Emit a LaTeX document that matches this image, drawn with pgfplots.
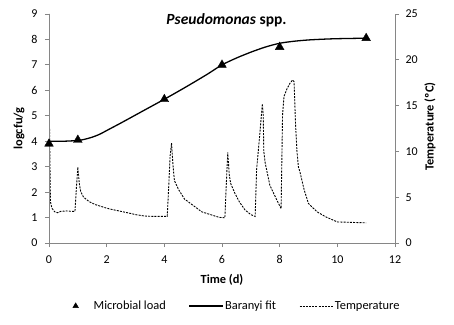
\documentclass[border=0pt]{standalone}
\usepackage{fontspec}
\setmainfont{Carlito}
\usepackage{pgfplots}
\pgfplotsset{compat=1.18}
\definecolor{axgray}{HTML}{868686}
\pgfplotsset{
  longleg/.style={legend image code/.code={\draw[##1] (0bp,0bp) -- (34bp,0bp);}},
  markleg/.style={legend image code/.code={\path[draw=none, fill=none] (0bp,0bp) -- (34bp,0bp);\draw[##1, mark size=3.2bp] plot coordinates {(17bp,0bp)};}},
  common/.style={
    width=346bp, height=229bp, scale only axis,
    at={(0,0)}, anchor=south west,
    xmin=0, xmax=12,
    /pgf/number format/assume math mode=true,
    axis line style={axgray, line width=0.8pt},
    tick style={axgray, line width=0.8pt},
    tick align=outside,
    major tick length=4bp,
    ticklabel style={font=\fontsize{12bp}{13bp}\selectfont},
    label style={font=\fontsize{12.4bp}{14bp}\selectfont\bfseries},
  }
}
\begin{document}
\begin{tikzpicture}[font=\fontsize{12bp}{13bp}\selectfont]
\path[use as bounding box] (-49bp,-82bp) rectangle (405bp,243bp);
\begin{axis}[common,
  ymin=0, ymax=25,
  axis y line*=right,
  axis x line=none,
  ytick={0,5,...,25},
  yticklabel style={xshift=3bp},
  ylabel={Temperature (ºC)},
  ylabel style={xshift=2bp},
]
\addplot[black, line width=0.9pt, dash pattern=on 2pt off 1.2pt] coordinates {
(0,25) (0.02,12) (0.05,4.5) (0.1,3.8) (0.2,3.4) (0.3,3.3) (0.4,3.45) (0.6,3.5) (0.8,3.45) (0.9,3.45)
(0.95,6) (1.0,8.3) (1.05,6.5) (1.1,5.6) (1.2,5.0) (1.4,4.5) (1.6,4.2) (1.8,4.0) (2.0,3.8) (2.2,3.65)
(2.5,3.45) (2.8,3.25) (3.0,3.1) (3.3,2.95) (3.6,2.9) (4.0,2.9) (4.1,2.9)
(4.15,6) (4.2,9.5) (4.25,10.9) (4.3,8.5) (4.35,6.8) (4.5,5.8) (4.7,4.8) (5.0,4.1) (5.3,3.4) (5.6,3.1) (5.9,2.8) (6.1,2.75)
(6.15,6.5) (6.2,9.9) (6.25,7.5) (6.3,6.5) (6.45,5.4) (6.6,4.5) (6.8,3.6) (7.0,3.1) (7.15,2.9)
(7.2,8) (7.3,11.5) (7.4,15.2) (7.43,14) (7.45,10) (7.5,8.7) (7.66,6.3) (7.9,4.7) (8.05,3.75)
(8.08,10) (8.1,14) (8.15,16) (8.25,16.8) (8.35,17.4) (8.45,17.8) (8.5,17.6) (8.55,13) (8.6,10) (8.65,8.3) (8.7,7.8)
(8.85,5.8) (9.0,4.3) (9.3,3.4) (9.6,2.85) (10.0,2.3) (10.5,2.25) (11.0,2.2)
};
\end{axis}
\begin{axis}[common, name=main,
  ymin=0, ymax=9,
  axis x line*=bottom,
  axis y line*=left,
  xtick={0,2,...,12},
  ytick={0,1,...,9},
  yticklabel style={xshift=-4bp},
  xticklabel style={yshift=-5bp},
  xlabel={Time (d)},
  xlabel style={yshift=-4bp},
  ylabel={logcfu/g},
  title={\textbf{\textit{Pseudomonas} spp.}},
  every axis title shift=0pt,
  title style={at={(0.513,0.974)}, anchor=center, font=\fontsize{15.5bp}{17bp}\selectfont},
  legend style={at={(0.522,-0.275)}, anchor=center, legend columns=3, draw=none, fill=none,
    inner sep=0pt,
    nodes={inner xsep=1bp},
    font=\fontsize{12.4bp}{13bp}\selectfont,
    /tikz/every even column/.append style={column sep=22bp}},
  legend cell align=left,
]
\addplot[black, only marks, mark=triangle*, mark size=5bp, markleg] coordinates {
(0,3.9) (1,4.05) (4,5.65) (6,7.0) (8,7.7) (11,8.05)
};
\addlegendentry{Microbial load}
\addplot[black, line width=1.3pt, smooth, longleg] coordinates {
(0,4.0) (0.5,4.0) (1,4.03) (1.25,4.08) (1.5,4.16) (1.75,4.27) (2,4.42) (2.5,4.72) (3,5.03) (3.5,5.34) (4,5.65)
(4.5,5.97) (5,6.3) (5.5,6.64) (6,7.0) (6.5,7.27) (7,7.5) (7.5,7.7) (8,7.85) (8.5,7.93) (9,7.98) (9.5,8.01) (10,8.03) (11,8.05)
};
\addlegendentry{Baranyi fit}
\addlegendimage{black, line width=0.9pt, dash pattern=on 2pt off 1.2pt, longleg}
\addlegendentry{Temperature}
\end{axis}
\end{tikzpicture}
\end{document}
